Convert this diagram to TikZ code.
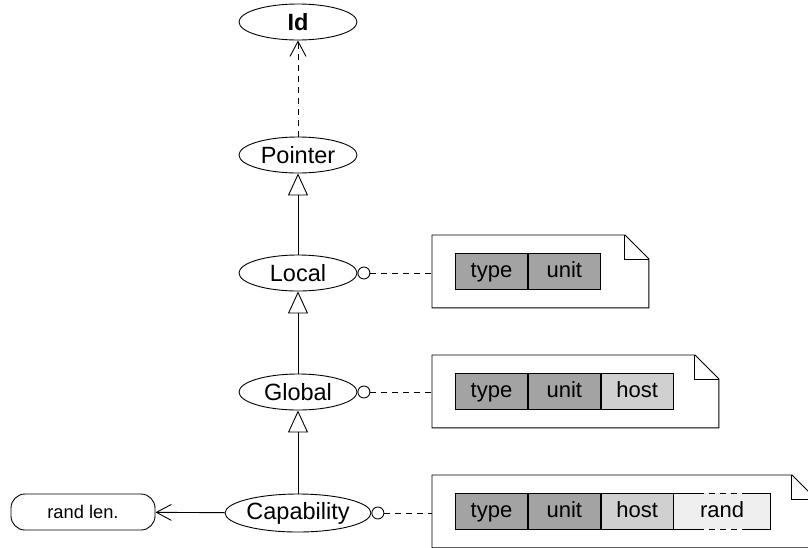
\documentclass[tikz,border=0pt]{standalone}
\usepackage{fontspec}
\setmainfont{Liberation Sans}
\usetikzlibrary{arrows.meta, positioning, shapes.geometric}
\definecolor{cdark}{HTML}{A3A3A3}
\definecolor{clight}{HTML}{D0D0D0}
\definecolor{cpale}{HTML}{EFEFEF}
\tikzset{
  every picture/.style={line width=0.9pt},
  cls/.style={ellipse, draw, inner sep=0pt, minimum width=118pt, minimum height=36pt, font=\fontsize{23.5}{27}\selectfont},
  extbox/.style={draw, rounded corners=14pt, minimum width=144pt, minimum height=36pt, font=\fontsize{18.3}{22}\selectfont},
  cell/.style={draw, fill=#1, inner sep=0pt, minimum width=72pt, minimum height=36pt, text height=16pt, text depth=4.6pt, font=\fontsize{22}{26}\selectfont},
  cell/.default=cdark,
  lolly/.style={circle, draw, fill=white, inner sep=0pt, minimum size=12pt},
  notebox/.style={inner sep=0pt, anchor=north west},
  inherit/.style={-{Triangle[open, length=22pt, width=20pt]}},
  uses/.style={-{Straight Barb[length=15pt, width=16pt]}},
  link/.style={dash pattern=on 6pt off 5pt},
}

\begin{document}
\begin{tikzpicture}[x=1pt, y=-1pt]
  \clip (0,0) rectangle (808,547);
  % class chain, y grows downwards
  \node[cls, font=\fontsize{23.5}{27}\selectfont\bfseries] (id) at (298,22) {Id};
  \node[cls] (pointer) at (298,155) {Pointer};
  \node[cls] (local) at (298,273) {Local};
  \node[cls] (global) at (298,392) {Global};
  \node[cls, minimum width=144pt, minimum height=38pt] (cap) at (298,513) {Capability};
  \node[extbox] (randlen) at (83,512) {rand len.};
  \draw[uses, link] (pointer) -- (id);
  \draw[inherit] (local) -- (pointer);
  \draw[inherit] (global) -- (local);
  \draw[inherit] (cap) -- (global);
  \draw[uses] (cap) -- (randlen);
  % notes with a folded corner
  \foreach \n/\y/\w in {1/235/216, 2/355/286, 3/475/383} {
    \node[notebox, minimum width=\w pt, minimum height=72pt] (note\n) at (432,\y) {};
    \draw[fill=white] (note\n.north west) -- ([xshift=-24pt]note\n.north east) -- ([yshift=-24pt]note\n.north east) -- (note\n.south east) -- (note\n.south west) -- cycle;
    \draw ([xshift=-24pt]note\n.north east) |- ([yshift=-24pt]note\n.north east);
    \node[cell, anchor=north west] (type\n) at ([xshift=23pt, yshift=-18pt]note\n.north west) {type};
    \node[cell, right=0pt of type\n] (unit\n) {unit};
  }
  \node[cell=clight, right=0pt of unit2] (host2) {host};
  \node[cell=clight, right=0pt of unit3] (host3) {host};
  \node[cell=cpale, draw=none, minimum width=96pt, right=0pt of host3] (rand3) {rand};
  \draw ([xshift=24pt]rand3.north west) -- (rand3.north west) -- (rand3.south west) -- ([xshift=24pt]rand3.south west);
  \draw ([xshift=-25pt]rand3.north east) -- (rand3.north east) -- (rand3.south east) -- ([xshift=-25pt]rand3.south east);
  \draw[link] ([xshift=24pt]rand3.north west) -- ([xshift=-25pt]rand3.north east);
  \draw[link] ([xshift=24pt]rand3.south west) -- ([xshift=-25pt]rand3.south east);
  % lollipops to the notes
  \foreach \c/\n in {local/1, global/2, cap/3} {
    \node[lolly, right=0pt of \c] (dot\n) {};
    \draw[link] (dot\n) -- (dot\n -| note\n.west);
  }
\end{tikzpicture}
\end{document}
